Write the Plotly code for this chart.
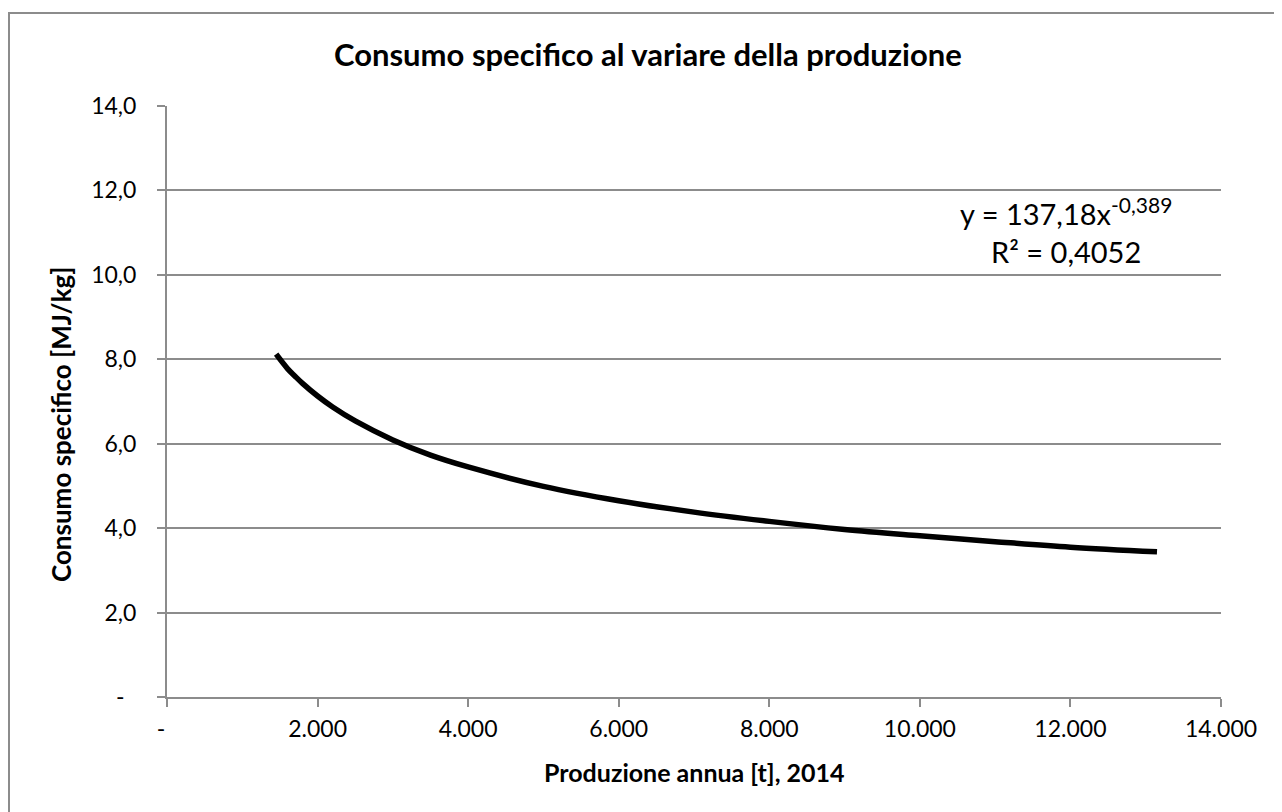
import plotly.graph_objects as go

# Values (power trendline of specific consumption vs production)
produzione_t = [1450, 1600, 1700, 1800, 2000, 2200, 2500, 3000, 3500, 4000, 5000,
                6000, 7000, 8000, 9000, 10000, 11000, 12000, 13150]
consumo_mj_kg = [8.12, 7.78, 7.60, 7.43, 7.13, 6.87, 6.54, 6.09, 5.73, 5.45, 4.99,
                 4.65, 4.38, 4.16, 3.97, 3.82, 3.68, 3.55, 3.44]

NB = "\u00a0"
x_tickvals = [0, 2000, 4000, 6000, 8000, 10000, 12000, 14000]
x_ticktext = ["-" + NB * 2, "2.000", "4.000", "6.000", "8.000", "10.000", "12.000", "14.000"]
y_tickvals = [0, 2, 4, 6, 8, 10, 12, 14]
y_ticktext = ["-" + NB * 2, "2,0", "4,0", "6,0", "8,0", "10,0", "12,0", "14,0"]

title_text = "Consumo specifico al variare della produzione"
x_title = "Produzione annua [t], 2014"
y_title = "Consumo specifico [MJ/kg]"
eq_line1 = "y = 137,18x"
eq_exp = "-0,389"
eq_line2 = "R² = 0,4052"

FONT = "Lato"
GRID = "#8c8c8c"
OFF = 8  # page body margin

W, H = 1274, 804
L, R, T, B = 159, 61, 98, 115
pw, ph = W - L - R, H - T - B

def px_x(px):
    return (px - OFF - L) / pw

def px_y(py):
    return (H - B - (py - OFF)) / ph

fig = go.Figure()
fig.add_trace(go.Scatter(
    x=produzione_t, y=consumo_mj_kg, mode="lines",
    line=dict(color="black", width=5.5, shape="spline"),
    hoverinfo="x+y", showlegend=False,
))

equation = (f"{eq_line1}<sup><span style='font-size:21px'>{eq_exp}</span></sup>"
            f"<br>{eq_line2}")

fig.update_layout(
    width=W, height=H, autosize=False,
    margin=dict(l=L, r=R, t=T, b=B),
    paper_bgcolor="white", plot_bgcolor="white",
    font=dict(family=FONT, size=23, color="black"),
    xaxis=dict(range=[0, 14000], tickvals=x_tickvals, ticktext=x_ticktext,
               showgrid=False, zeroline=False, showline=True, linecolor=GRID,
               linewidth=2, ticks="outside", ticklen=8, tickcolor=GRID,
               tickwidth=2, tickfont=dict(size=23, family=FONT),
               ticklabelstandoff=2),
    yaxis=dict(range=[0, 14], tickvals=y_tickvals, ticktext=y_ticktext,
               showgrid=True, gridcolor=GRID, gridwidth=2, zeroline=False,
               showline=True, linecolor=GRID, linewidth=2, ticks="outside",
               ticklen=8, tickcolor=GRID, tickwidth=2,
               tickfont=dict(size=23, family=FONT), ticklabelstandoff=16),
    annotations=[
        dict(text=f"<b>{title_text}</b>", xref="paper", yref="paper",
             x=px_x(648), y=px_y(54), xanchor="center", yanchor="middle",
             showarrow=False, font=dict(size=31, family=FONT)),
        dict(text=f"<b>{x_title}</b>", xref="paper", yref="paper",
             x=px_x(694), y=px_y(772), xanchor="center", yanchor="middle",
             showarrow=False, font=dict(size=25, family=FONT)),
        dict(text=f"<b>{y_title}</b>", xref="paper", yref="paper",
             x=px_x(61), y=px_y(425), xanchor="center", yanchor="middle",
             textangle=-90, showarrow=False, font=dict(size=26, family=FONT)),
        dict(text=equation, xref="paper", yref="paper",
             x=px_x(1066), y=px_y(230), xanchor="center", yanchor="middle",
             showarrow=False, align="center", font=dict(size=29, family=FONT)),
    ],
    shapes=[dict(type="rect", xref="paper", yref="paper",
                 x0=px_x(9), x1=px_x(1500), y0=px_y(1000), y1=px_y(13),
                 line=dict(color=GRID, width=2), fillcolor="rgba(0,0,0,0)",
                 layer="below")],
)

fig.write_html("out.html")
